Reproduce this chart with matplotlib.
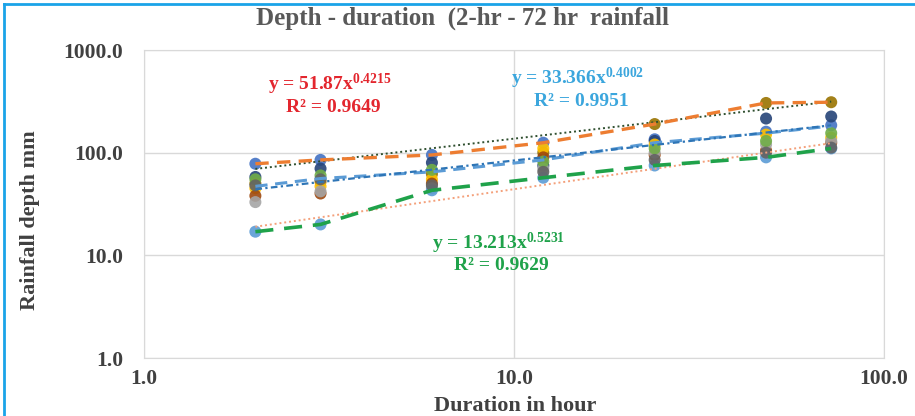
import numpy as np
import matplotlib
matplotlib.use("Agg")
import matplotlib.pyplot as plt
from matplotlib.ticker import FixedLocator, FixedFormatter, NullLocator

plt.rcParams['font.family'] = ['Liberation Serif', 'DejaVu Serif']
plt.rcParams['font.weight'] = 'bold'
plt.rcParams['mathtext.fontset'] = 'custom'
plt.rcParams['mathtext.rm'] = 'Liberation Serif:bold'
plt.rcParams['mathtext.it'] = 'Liberation Serif:bold'
plt.rcParams['mathtext.bf'] = 'Liberation Serif:bold'

# durata (ore)
durations = [2, 3, 6, 12, 24, 48, 72]

# profondita' di pioggia per stazione (mm)
stations = {
    'st1': [78, 85, 95, 125, 135, 160, 185],
    'st2': [58, 70, 80, 75, 130, 215, 225],
    'st3': [50, 52, 62, 100, 190, 305, 310],
    'st4': [45, 47, 55, 110, 120, 150, 140],
    'st5': [38, 40, 50, 90, 95, 105, 125],
    'st6': [33, 42, 45, 70, 100, 120, 130],
    'st7': [17, 20, 43, 57, 75, 90, 110],
    'st8': [55, 60, 68, 82, 110, 130, 155],
    'st9': [48, 55, 48, 65, 85, 100, 112],
}
station_colors = ['#4472C4', '#264478', '#997300', '#FFC000', '#9E480E',
                  '#A5A5A5', '#5B9BD5', '#70AD47', '#636363']

max_depth = [78, 85, 95, 125, 190, 305, 310]
avg_depth = [47, 56, 65, 85, 125, 155, 182]
min_depth = [17, 20, 43, 57, 75, 90, 110]

# trendline (a, b) y = a x^b, come nelle etichette
trend_max = (51.87, 0.4215)
trend_avg = (33.366, 0.4002)
trend_min = (13.213, 0.5231)

W, H = 915, 416
fig = plt.figure(figsize=(W / 100, H / 100), dpi=100)
ax = fig.add_axes([144 / W, 1 - 358 / H, 740 / W, 308 / H])

for (name, vals), c in zip(stations.items(), station_colors):
    ax.scatter(durations, vals, s=75, color=c, alpha=0.9, edgecolors='none', zorder=3)

x = np.array(durations, dtype=float)
ax.plot(x, trend_max[0] * x ** trend_max[1], color='#2F4F2F', ls=(0, (1, 1.5)), lw=1.4, zorder=4)
ax.plot(x, trend_min[0] * x ** trend_min[1], color='#F4A07A', ls=(0, (1, 1.5)), lw=1.4, zorder=4)

ax.plot(durations, max_depth, color='#ED7D31', ls=(0, (4, 2.5)), lw=2.4, zorder=5)
ax.plot(durations, min_depth, color='#1FA24A', ls=(0, (5, 3)), lw=2.6, zorder=5)
ax.plot(durations, avg_depth, color='#5B9BD5', ls=(0, (4, 2.5)), lw=2.2, zorder=5)
ax.plot(x, trend_avg[0] * x ** trend_avg[1], color='#2E75B6', ls=(0, (3, 1.5, 1, 1.5)), lw=1.6, zorder=6)

ax.set_xscale('log')
ax.set_yscale('log')
ax.set_xlim(1, 100)
ax.set_ylim(1, 1000)
ax.xaxis.set_major_locator(FixedLocator([1, 10, 100]))
ax.xaxis.set_major_formatter(FixedFormatter(['1.0', '10.0', '100.0']))
ax.yaxis.set_major_locator(FixedLocator([1, 10, 100, 1000]))
ax.yaxis.set_major_formatter(FixedFormatter(['1.0', '10.0', '100.0', '1000.0']))
ax.xaxis.set_minor_locator(NullLocator())
ax.yaxis.set_minor_locator(NullLocator())
ax.tick_params(length=0, labelsize=15.5, labelcolor='#404040')
ax.tick_params(axis='y', pad=15)
ax.tick_params(axis='x', pad=8)
ax.grid(True, color='#D9D9D9', lw=1)
for s in ax.spines.values():
    s.set_color('#D9D9D9')

fig.text(515 / W, 1 - 406 / H, 'Duration in hour', ha='center', va='center', fontsize=16, color='#404040')
fig.text(30 / W, 1 - 220 / H, 'Rainfall depth mm', ha='center', va='center', rotation=90,
         fontsize=16, color='#404040')
fig.text(462 / W, 1 - 18 / H, 'Depth - duration  (2-hr - 72 hr  rainfall', ha='center', va='center',
         fontsize=18, color='#595959')

def eq_label(xp, yp, a, b, r2, col):
    fig.text(xp / W, 1 - yp / H, 'y = %sx$^{%s}$' % (a, b), ha='center', va='center',
             fontsize=14, color=col)
    fig.text((xp + 3) / W, 1 - (yp + 23) / H, 'R² = %s' % r2, ha='center', va='center',
             fontsize=14, color=col)

eq_label(330, 84, '51.87', '0.4215', '0.9649', '#E3262E')
eq_label(578, 78, '33.366', '0.4002', '0.9951', '#3BA6DD')
eq_label(498, 243, '13.213', '0.5231', '0.9629', '#1FA24A')

# bordo azzurro
fig.add_artist(plt.Line2D([4 / W, 4 / W], [0, 1 - 4 / H], transform=fig.transFigure, color='#1AA3E8', lw=2))
fig.add_artist(plt.Line2D([4 / W, 1], [1 - 4 / H, 1 - 4 / H], transform=fig.transFigure, color='#1AA3E8', lw=2))

fig.savefig('out.png', dpi=100)
